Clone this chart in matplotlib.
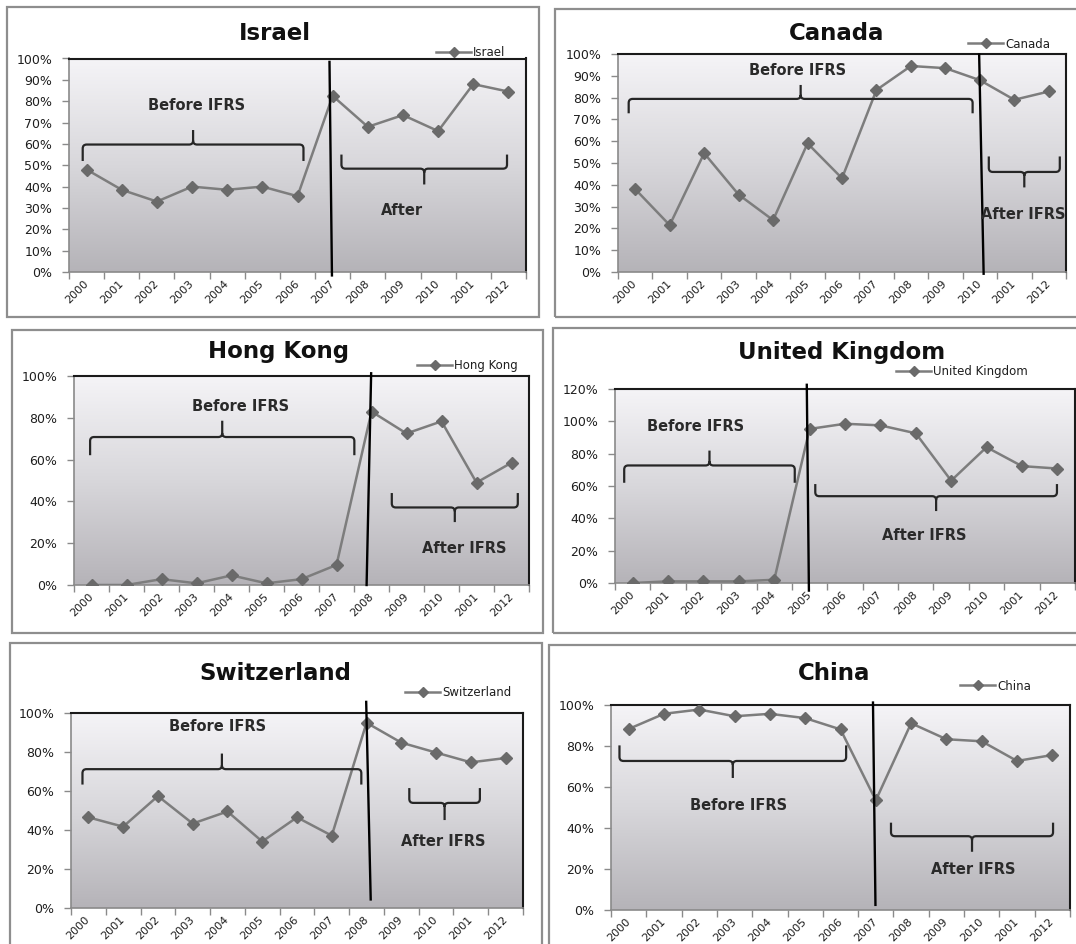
import numpy as np
import matplotlib
matplotlib.use("Agg")
import matplotlib.pyplot as plt
from matplotlib.patches import Rectangle, PathPatch
from matplotlib.path import Path
from matplotlib.colors import LinearSegmentedColormap
from matplotlib.ticker import FuncFormatter, FixedLocator

# year labels as they appear on the category axis (note the "2001" after 2010)
years = ["2000", "2001", "2002", "2003", "2004", "2005", "2006",
         "2007", "2008", "2009", "2010", "2001", "2012"]

# share per year, in percent
israel = [48, 38.5, 33, 40, 38.5, 40, 35.5, 82.5, 68, 73.5, 66, 88, 84.5]
canada = [38, 21.5, 54.5, 35.5, 23.8, 59, 43, 83.5, 94.5, 93.5, 88, 79, 82.8]
hong_kong = [0, 0, 2.8, 0.8, 4.6, 0.8, 2.8, 9.6, 83, 72.5, 78.3, 49, 58.5]
united_kingdom = [0, 1, 1, 1, 2, 95.3, 98.5, 97.5, 92.6, 63.3, 84, 72.3, 70.8]
switzerland = [46.5, 41.7, 57.4, 43.3, 49.5, 34.1, 46.5, 37.1, 95, 84.8, 79.7, 74.7, 76.9]
china = [88.3, 95.7, 97.8, 94.5, 95.7, 93.6, 88.1, 53.5, 91.1, 83.3, 82.3, 72.7, 75.6]

W, H = 1076, 944
fig = plt.figure(figsize=(W / 100, H / 100), dpi=100)

grad = LinearSegmentedColormap.from_list("plotarea", ["#b5b3b8", "#d8d7db", "#f5f4f7"])
TXT = "#1e1e1e"


def fig_box(l, t, r, b):
    return [l / W, 1 - b / H, (r - l) / W, (b - t) / H]


def brace(ax, x0, x1, y, y_end, y_tip, r_px=4):
    # curly brace lying on its side, ends toward y_end, centre nub toward y_tip
    bb = ax.get_position()
    xmin, xmax = ax.get_xlim()
    ymin, ymax = ax.get_ylim()
    ux = bb.width * W / (xmax - xmin)
    uy = bb.height * H / (ymax - ymin)
    dx = r_px / ux
    dy = r_px / uy
    s = np.sign(y_end - y)
    t = np.sign(y_tip - y)
    xc = (x0 + x1) / 2
    verts = [(x0, y_end), (x0, y + s * dy), (x0, y), (x0 + dx, y),
             (xc - dx, y), (xc, y), (xc, y + t * dy), (xc, y_tip),
             (xc, y + t * dy), (xc, y), (xc + dx, y),
             (x1 - dx, y), (x1, y), (x1, y + s * dy), (x1, y_end)]
    codes = [Path.MOVETO, Path.LINETO, Path.CURVE3, Path.CURVE3,
             Path.LINETO, Path.CURVE3, Path.CURVE3, Path.LINETO,
             Path.MOVETO, Path.CURVE3, Path.CURVE3,
             Path.LINETO, Path.CURVE3, Path.CURVE3, Path.LINETO]
    ax.add_patch(PathPatch(Path(verts, codes), fill=False, ec="#262626",
                           lw=1.6, zorder=4, clip_on=False))


panels = [
    dict(name="Israel", values=israel, frame=(7, 7, 539, 317),
         axes=(69, 58.5, 526, 272), title=(275, 33), legend=(436, 53),
         ymax=100, step=10, sep=((6.91, 98.4), (6.98, -1.6)),
         before=(-0.11, 6.17, 59.7, 52, 66.5), before_txt=(3.13, 78),
         after=(7.25, 11.96, 48.4, 55, 41), after_txt=(8.97, 29), after_label="After"),
    dict(name="Canada", values=canada, frame=(555, 9, 1090, 317),
         axes=(618, 54, 1066, 272), title=(837, 34), legend=(968, 44),
         ymax=100, step=10, sep=((9.98, 99.7), (10.11, -0.8)),
         before=(-0.19, 9.79, 79.4, 72.8, 85.8), before_txt=(4.72, 92.6),
         after=(10.26, 12.32, 45.9, 53, 38.8), after_txt=(11.26, 26.6), after_label="After IFRS"),
    dict(name="Hong Kong", values=hong_kong, frame=(12, 330, 543, 633),
         axes=(74, 376, 529, 585), title=(279, 351), legend=(417, 366),
         ymax=100, step=20, sep=((7.99, 101.3), (7.86, 0)),
         before=(-0.04, 7.51, 70.8, 62.1, 78.6), before_txt=(4.27, 85.2),
         after=(8.58, 12.18, 37.1, 44, 30.1), after_txt=(10.66, 17.3), after_label="After IFRS"),
    dict(name="United Kingdom", values=united_kingdom, frame=(553, 328, 1090, 633),
         axes=(615, 389, 1075, 583), title=(842, 352), legend=(896, 372),
         ymax=120, step=20, sep=((4.92, 122.6), (4.98, -4.7)),
         before=(-0.24, 4.58, 72.7, 62, 81.9), before_txt=(1.78, 96.9),
         after=(5.16, 11.99, 53.7, 61.2, 44.5), after_txt=(8.23, 29.5), after_label="After IFRS"),
    dict(name="Switzerland", values=switzerland, frame=(10, 643, 542, 960),
         axes=(71, 713, 523, 908), title=(275, 673), legend=(405, 693),
         ymax=100, step=20, sep=((7.99, 105.7), (8.12, 4.4)),
         before=(-0.17, 7.85, 71.2, 63.3, 79.2), before_txt=(3.71, 93.3),
         after=(9.23, 11.26, 53.9, 61.5, 45.1), after_txt=(10.22, 34.1), after_label="After IFRS"),
    dict(name="China", values=china, frame=(549, 645, 1090, 960),
         axes=(611, 705, 1070, 910), title=(834, 674), legend=(960, 686),
         ymax=100, step=20, sep=((6.92, 101.2), (6.99, 2.5)),
         before=(-0.26, 6.16, 72.7, 80.3, 64.4), before_txt=(3.12, 51),
         after=(7.43, 12.02, 36, 42.6, 28.4), after_txt=(9.77, 19.6), after_label="After IFRS"),
]

pct = FuncFormatter(lambda v, _: f"{v:.0f}%")
x = np.arange(len(years))

for p in panels:
    l, t, r, b = p["frame"]
    fig.add_artist(Rectangle((l / W, 1 - b / H), (r - l) / W, (b - t) / H,
                             transform=fig.transFigure, fill=False,
                             ec="#8e8e8e", lw=1.6, zorder=0))
    fig.text(p["title"][0] / W, 1 - p["title"][1] / H, p["name"], ha="center",
             va="center", fontsize=16.5, fontweight="bold", color="#111111")

    ax = fig.add_axes(fig_box(*p["axes"]))
    ax.set_xlim(-0.5, len(years) - 0.5)
    ax.set_ylim(0, p["ymax"])
    ax.imshow(np.linspace(1, 0, 256).reshape(-1, 1), cmap=grad, aspect="auto",
              extent=[0, 1, 0, 1], transform=ax.transAxes, zorder=0)

    line, = ax.plot(x, p["values"], color="#7d7d7d", lw=1.8, marker="D",
                    ms=6, mfc="#6a6a6a", mec="#6a6a6a", zorder=3, label=p["name"])

    # axis styling: category boundaries as ticks, labels at the centres
    ax.xaxis.set_major_locator(FixedLocator(np.arange(-0.5, len(years), 1.0)))
    ax.xaxis.set_minor_locator(FixedLocator(x))
    ax.set_xticklabels([], minor=False)
    ax.set_xticks(x, years, minor=True)
    ax.tick_params(axis="x", which="major", direction="out", length=5,
                   width=1, color="#8a8a8a")
    ax.tick_params(axis="x", which="minor", length=0, pad=7, labelsize=8,
                   labelcolor=TXT)
    for lab in ax.get_xticklabels(minor=True):
        lab.set_rotation(45)
        lab.set_ha("right")
        lab.set_va("center")
        lab.set_rotation_mode("anchor")

    ax.set_yticks(np.arange(0, p["ymax"] + 1, p["step"]))
    ax.yaxis.set_major_formatter(pct)
    ax.tick_params(axis="y", direction="out", length=5, width=1, color="#8a8a8a",
                   pad=7, labelsize=9, labelcolor=TXT)

    for side in ("top", "right"):
        ax.spines[side].set_color("#1a1a1a")
        ax.spines[side].set_linewidth(1.5)
    for side in ("left", "bottom"):
        ax.spines[side].set_color("#8a8a8a")
        ax.spines[side].set_linewidth(1.2)

    # IFRS adoption divider
    (xt, yt), (xb, yb) = p["sep"]
    ax.plot([xt, xb], [yt, yb], color="black", lw=1.7, zorder=5, clip_on=False)

    brace(ax, *p["before"])
    brace(ax, *p["after"])
    ax.text(*p["before_txt"], "Before IFRS", ha="center", va="center",
            fontsize=10.5, fontweight="bold", color="#2a2a2a", zorder=6)
    ax.text(*p["after_txt"], p["after_label"], ha="center", va="center",
            fontsize=10.5, fontweight="bold", color="#2a2a2a", zorder=6)

    lx, ly = p["legend"]
    ax.legend(handles=[line], loc="center left",
              bbox_to_anchor=(lx / W, 1 - ly / H), bbox_transform=fig.transFigure,
              frameon=False, fontsize=8.5, handlelength=3.0, handletextpad=0.15,
              borderpad=0, borderaxespad=0, markerscale=0.8, labelcolor=TXT)

fig.savefig("out.png", dpi=100)
